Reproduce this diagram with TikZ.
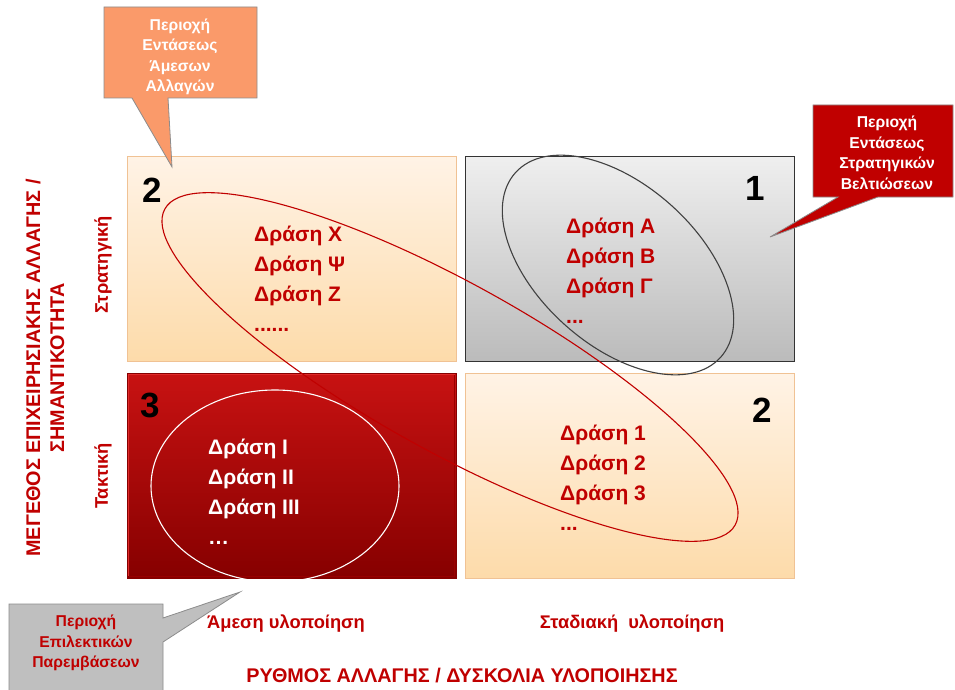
\documentclass[tikz,border=0pt]{standalone}
\usepackage{fontspec}
\setmainfont{Liberation Sans}
\usetikzlibrary{shapes.geometric}

\definecolor{deepred}{HTML}{C00000}
\definecolor{peachtop}{HTML}{FFF3E6}
\definecolor{peachbot}{HTML}{FDDBAA}
\definecolor{peachedge}{HTML}{F0C294}
\definecolor{greytop}{HTML}{EFEFEF}
\definecolor{greybot}{HTML}{BBBBBB}
\definecolor{redtop}{HTML}{C81212}
\definecolor{redbot}{HTML}{860000}
\definecolor{redrim}{HTML}{E02A2A}
\definecolor{orangefill}{HTML}{FA9A6A}
\definecolor{calloutgrey}{HTML}{BFBFBF}
\definecolor{calloutedge}{HTML}{8C8C8C}

\tikzset{
  peachbox/.style={top color=peachtop, bottom color=peachbot, draw=peachedge, line width=1pt},
  greybox/.style={top color=greytop, bottom color=greybot, draw=black!80, line width=1pt},
  redbox/.style={top color=redtop, bottom color=redbot, draw=redbot, line width=1pt},
  quadnum/.style={font=\fontsize{35}{35}\selectfont\bfseries, text=black, inner sep=0pt},
  listtext/.style={font=\fontsize{21}{30}\selectfont\bfseries, align=left, inner sep=0pt, anchor=west},
  calloutshape/.style={draw=calloutedge, line width=0.8pt, line join=miter},
  callouttext/.style={font=\fontsize{15.7}{20.5}\selectfont\bfseries, align=center, inner sep=0pt},
  axistext/.style={font=\fontsize{18.3}{22}\selectfont\bfseries, text=deepred, inner sep=0pt},
  titletext/.style={font=\fontsize{19.8}{24}\selectfont\bfseries, text=deepred, align=center, inner sep=0pt},
  ring/.style={line width=1.1pt}
}

\begin{document}
\begin{tikzpicture}[x=1pt,y=-1pt]
\useasboundingbox[fill=white] (0,0) rectangle (955,690);

% quadrant boxes
\path[peachbox] (127,156) rectangle (456,361);
\path[greybox]  (465,156) rectangle (794,361);
\path[redbox]   (127,373) rectangle (456,578);
% bevel highlight on the red box
\draw[redrim, line width=1.6pt] (128.5,576) -- (128.5,374.5) -- (454.5,374.5);
\draw[red!60!black, line width=1.2pt] (454.5,374.5) -- (454.5,576.5) -- (128.5,576.5);
\path[peachbox] (465,373) rectangle (794,578);

% quadrant numbers
\node[quadnum] (numA) at (152,190) {2};
\node[quadnum] (numB) at (755,188) {1};
\node[quadnum] (numC) at (150,405) {3};
\node[quadnum] (numD) at (762,410) {2};

% grouping ellipses
\draw[ring, deepred] (450,367) ellipse [x radius=326, y radius=84, rotate=-29];
\draw[ring, black!75] (618,265) ellipse [x radius=138, y radius=80, rotate=-42];
\draw[ring, white] (275,486) ellipse [x radius=124, y radius=96];

% action lists
\node[listtext, text=deepred] (listTL) at (254,279) {Δράση Χ\\Δράση Ψ\\Δράση Ζ\\......};
\node[listtext, text=deepred] (listTR) at (566,271) {Δράση Α\\Δράση Β\\Δράση Γ\\...};
\node[listtext, text=white]   (listBL) at (208,492) {Δράση Ι\\Δράση ΙΙ\\Δράση ΙΙΙ\\…};
\node[listtext, text=deepred] (listBR) at (560,478) {Δράση 1\\Δράση 2\\Δράση 3\\...};

% callout: immediate changes
\path[calloutshape, fill=orangefill]
  (104,7) -- (257,7) -- (257,98) -- (168,98) -- (172,167) -- (132,98) -- (104,98) -- cycle;
\node[callouttext, text=white] (calloutA) at (180,57) {Περιοχή\\Εντάσεως\\Άμεσων\\Αλλαγών};

% callout: strategic improvements
\path[calloutshape, fill=deepred]
  (813,105) -- (953,105) -- (953,197) -- (878,197) -- (770,237) -- (838,197) -- (813,197) -- cycle;
\node[callouttext, text=white] (calloutB) at (887,153) {Περιοχή\\Εντάσεως\\Στρατηγικών\\Βελτιώσεων};

% callout: selective interventions
\path[calloutshape, fill=calloutgrey]
  (9,604) -- (163,604) -- (163,618) -- (240,592) -- (163,642) -- (163,696) -- (9,696) -- cycle;
\node[callouttext, text=deepred] (calloutC) at (86,643) {Περιοχή\\Επιλεκτικών\\Παρεμβάσεων};

% axis labels
\node[axistext] (xlow)  at (286,624) {Άμεση υλοποίηση};
\node[axistext] (xhigh) at (632,624) {Σταδιακή\ \ υλοποίηση};
\node[titletext] (xtitle) at (462,676) {ΡΥΘΜΟΣ ΑΛΛΑΓΗΣ / ΔΥΣΚΟΛΙΑ ΥΛΟΠΟΙΗΣΗΣ};
\node[titletext, rotate=90] (ytitle) at (45,368) {ΜΕΓΕΘΟΣ ΕΠΙΧΕΙΡΗΣΙΑΚΗΣ ΑΛΛΑΓΗΣ /\\ΣΗΜΑΝΤΙΚΟΤΗΤΑ};
\node[axistext, rotate=90] (yhigh) at (103,265) {Στρατηγική};
\node[axistext, rotate=90] (ylow)  at (103,476) {Τακτική};
\end{tikzpicture}
\end{document}
